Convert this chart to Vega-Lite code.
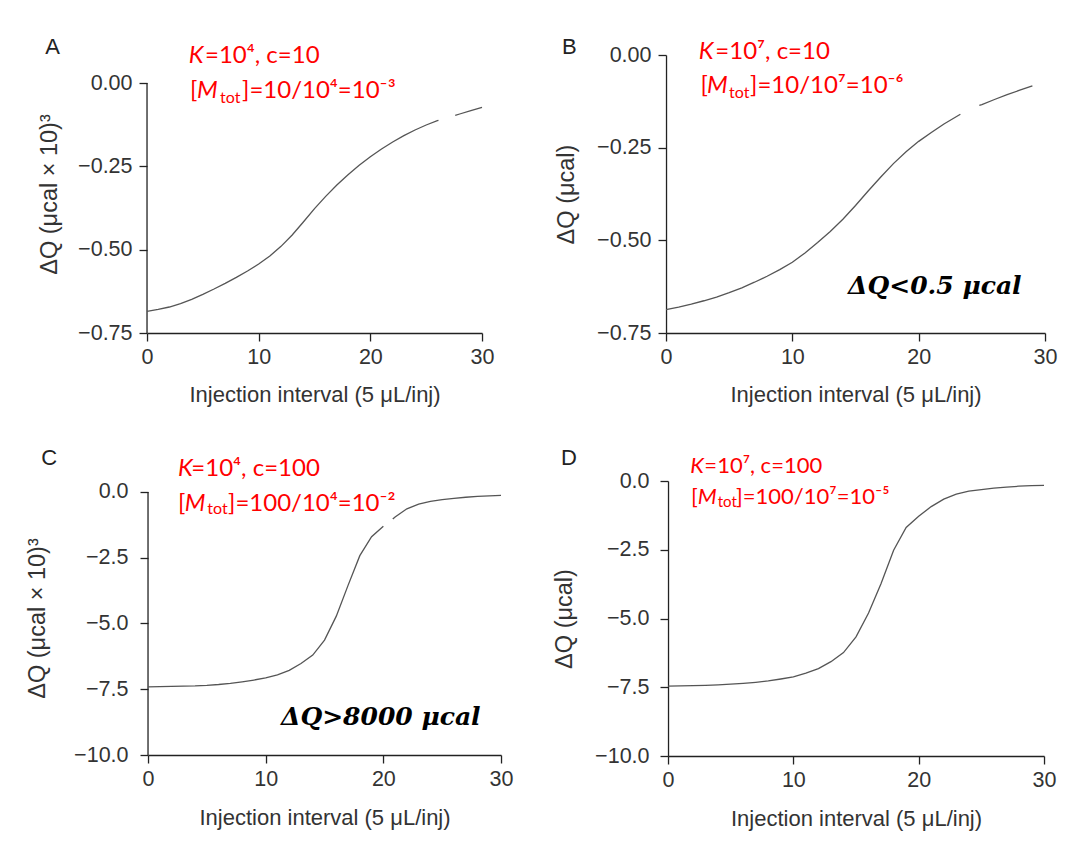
{
  "$schema": "https://vega.github.io/schema/vega-lite/v6.json",
  "background": "white",
  "padding": {"left": 25, "top": 36, "right": 5, "bottom": 5},
  "config": {
    "view": {"stroke": null},
    "axis": {
      "grid": false, "domainColor": "#222", "domainWidth": 1.3, "tickColor": "#222", "tickWidth": 1.3, "tickSize": 8,
      "labelFont": "Liberation Sans", "labelFontSize": 21.5, "labelColor": "#333", "labelFlush": false,
      "titleFont": "Liberation Sans", "titleFontWeight": "normal", "titleColor": "#333"
    },
    "axisX": {"labelPadding": 5, "titleFontSize": 22, "titlePadding": 17},
    "axisY": {"labelPadding": 7, "titleFontSize": 23.5, "titlePadding": 18}
  },
  "center": true,
  "spacing": 40,
  "vconcat": [
    {
      "spacing": 60,
      "hconcat": [
        {
          "width": 335, "height": 278,
          "encoding": {
            "x": {"field": "x", "type": "quantitative", "scale": {"domain": [0, 30], "nice": false, "zero": false}, "axis": {"values": [0, 10, 20, 30], "title": "Injection interval (5 μL/inj)"}},
            "y": {"field": "y", "type": "quantitative", "scale": {"domain": [-0.75, 0.084], "nice": false, "zero": false}, "axis": {"values": [0, -0.25, -0.5, -0.75], "format": ".2f", "title": "ΔQ (μcal × 10)³", "titlePadding": 16, "domain": false}}
          },
          "layer": [
            {"data": {"values": [{"x": 0, "y": -0.75, "y2": 0}]}, "mark": {"type": "rule", "color": "#222", "strokeWidth": 1.3}, "encoding": {"y2": {"field": "y2"}}},
            {"data": {"values": [
              {"x": 0, "y": -0.685, "seg": 1}, {"x": 1, "y": -0.679, "seg": 1}, {"x": 2, "y": -0.672, "seg": 1}, {"x": 3, "y": -0.662, "seg": 1},
              {"x": 4, "y": -0.649, "seg": 1}, {"x": 5, "y": -0.634, "seg": 1}, {"x": 6, "y": -0.618, "seg": 1}, {"x": 7, "y": -0.601, "seg": 1},
              {"x": 8, "y": -0.583, "seg": 1}, {"x": 9, "y": -0.564, "seg": 1}, {"x": 10, "y": -0.543, "seg": 1}, {"x": 11, "y": -0.519, "seg": 1},
              {"x": 12, "y": -0.49, "seg": 1}, {"x": 13, "y": -0.456, "seg": 1}, {"x": 14, "y": -0.417, "seg": 1}, {"x": 15, "y": -0.377, "seg": 1},
              {"x": 16, "y": -0.34, "seg": 1}, {"x": 17, "y": -0.306, "seg": 1}, {"x": 18, "y": -0.275, "seg": 1}, {"x": 19, "y": -0.247, "seg": 1},
              {"x": 20, "y": -0.221, "seg": 1}, {"x": 21, "y": -0.198, "seg": 1}, {"x": 22, "y": -0.177, "seg": 1}, {"x": 23, "y": -0.158, "seg": 1},
              {"x": 24, "y": -0.141, "seg": 1}, {"x": 25, "y": -0.126, "seg": 1}, {"x": 26, "y": -0.113, "seg": 1}, {"x": 26.1, "y": -0.112, "seg": 1},
              {"x": 27.6, "y": -0.097, "seg": 2}, {"x": 28, "y": -0.093, "seg": 2}, {"x": 29, "y": -0.083, "seg": 2}, {"x": 30, "y": -0.073, "seg": 2}
            ]}, "mark": {"type": "line", "color": "#555", "strokeWidth": 1.3}, "encoding": {"detail": {"field": "seg"}}},
            {"data": {"values": [{"x": -9.11, "y": 0.0861, "t": "A"}]}, "mark": {"type": "text", "font": "Liberation Sans", "fontSize": 22, "align": "left", "baseline": "alphabetic", "color": "#222"}, "encoding": {"text": {"field": "t"}}},
            {"data": {"values": [{"x": 3.73, "y": 0.0609, "t": "K"}, {"x": 4.48, "y": -0.0441, "t": "M"}]}, "mark": {"type": "text", "font": "Lato", "fontStyle": "italic", "fontSize": 24, "align": "left", "baseline": "alphabetic", "color": "#ff0000"}, "encoding": {"text": {"field": "t"}}},
            {"data": {"values": [{"x": 5.19, "y": 0.0609, "t": "=10⁴,  c=10"}, {"x": 3.85, "y": -0.0441, "t": "["}, {"x": 8.51, "y": -0.0441, "t": "]=10/10⁴=10⁻³"}]}, "mark": {"type": "text", "font": "Lato", "fontSize": 24, "align": "left", "baseline": "alphabetic", "color": "#ff0000"}, "encoding": {"text": {"field": "t"}}},
            {"data": {"values": [{"x": 6.54, "y": -0.0591, "t": "tot"}]}, "mark": {"type": "text", "font": "Lato", "fontSize": 16, "align": "left", "baseline": "alphabetic", "color": "#ff0000"}, "encoding": {"text": {"field": "t"}}}
          ]
        },
        {
          "width": 379, "height": 278,
          "encoding": {
            "x": {"field": "x", "type": "quantitative", "scale": {"domain": [0, 30], "nice": false, "zero": false}, "axis": {"values": [0, 10, 20, 30], "title": "Injection interval (5 μL/inj)"}},
            "y": {"field": "y", "type": "quantitative", "scale": {"domain": [-0.75, 0], "nice": false}, "axis": {"values": [0, -0.25, -0.5, -0.75], "format": ".2f", "title": "ΔQ (μcal)"}}
          },
          "layer": [
            {"data": {"values": [
              {"x": 0, "y": -0.687, "seg": 1}, {"x": 1, "y": -0.68, "seg": 1}, {"x": 2, "y": -0.672, "seg": 1}, {"x": 3, "y": -0.663, "seg": 1},
              {"x": 4, "y": -0.653, "seg": 1}, {"x": 5, "y": -0.641, "seg": 1}, {"x": 6, "y": -0.628, "seg": 1}, {"x": 7, "y": -0.613, "seg": 1},
              {"x": 8, "y": -0.597, "seg": 1}, {"x": 9, "y": -0.579, "seg": 1}, {"x": 10, "y": -0.559, "seg": 1}, {"x": 11, "y": -0.534, "seg": 1},
              {"x": 12, "y": -0.506, "seg": 1}, {"x": 13, "y": -0.476, "seg": 1}, {"x": 14, "y": -0.443, "seg": 1}, {"x": 15, "y": -0.406, "seg": 1},
              {"x": 16, "y": -0.367, "seg": 1}, {"x": 17, "y": -0.329, "seg": 1}, {"x": 18, "y": -0.293, "seg": 1}, {"x": 19, "y": -0.261, "seg": 1},
              {"x": 20, "y": -0.233, "seg": 1}, {"x": 21, "y": -0.209, "seg": 1}, {"x": 22, "y": -0.186, "seg": 1}, {"x": 23, "y": -0.166, "seg": 1},
              {"x": 23.3, "y": -0.16, "seg": 1},
              {"x": 24.8, "y": -0.136, "seg": 2}, {"x": 25, "y": -0.134, "seg": 2}, {"x": 26, "y": -0.12, "seg": 2}, {"x": 27, "y": -0.107, "seg": 2},
              {"x": 28, "y": -0.095, "seg": 2}, {"x": 29, "y": -0.083, "seg": 2}
            ]}, "mark": {"type": "line", "color": "#555", "strokeWidth": 1.3}, "encoding": {"detail": {"field": "seg"}}},
            {"data": {"values": [{"x": -8.23, "y": 0.0019, "t": "B"}]}, "mark": {"type": "text", "font": "Liberation Sans", "fontSize": 22, "align": "left", "baseline": "alphabetic", "color": "#222"}, "encoding": {"text": {"field": "t"}}},
            {"data": {"values": [{"x": 2.59, "y": -0.0116, "t": "K"}, {"x": 3.25, "y": -0.1017, "t": "M"}]}, "mark": {"type": "text", "font": "Lato", "fontStyle": "italic", "fontSize": 24, "align": "left", "baseline": "alphabetic", "color": "#ff0000"}, "encoding": {"text": {"field": "t"}}},
            {"data": {"values": [{"x": 3.9, "y": -0.0116, "t": "=10⁷,  c=10"}, {"x": 2.72, "y": -0.1017, "t": "["}, {"x": 6.65, "y": -0.1017, "t": "]=10/10⁷=10⁻⁶"}]}, "mark": {"type": "text", "font": "Lato", "fontSize": 24, "align": "left", "baseline": "alphabetic", "color": "#ff0000"}, "encoding": {"text": {"field": "t"}}},
            {"data": {"values": [{"x": 4.99, "y": -0.1152, "t": "tot"}]}, "mark": {"type": "text", "font": "Lato", "fontSize": 16, "align": "left", "baseline": "alphabetic", "color": "#ff0000"}, "encoding": {"text": {"field": "t"}}},
            {"data": {"values": [{"x": 14.41, "y": -0.6456, "t": "ΔQ<0.5 μcal"}]}, "mark": {"type": "text", "font": "DejaVu Serif", "fontStyle": "italic", "fontWeight": "bold", "fontSize": 25, "align": "left", "baseline": "alphabetic", "color": "#000"}, "encoding": {"text": {"field": "t"}}}
          ]
        }
      ]
    },
    {
      "spacing": 39,
      "hconcat": [
        {
          "width": 353, "height": 274,
          "encoding": {
            "x": {"field": "x", "type": "quantitative", "scale": {"domain": [0, 30], "nice": false, "zero": false}, "axis": {"values": [0, 10, 20, 30], "title": "Injection interval (5 μL/inj)", "titlePadding": 18}},
            "y": {"field": "y", "type": "quantitative", "scale": {"domain": [-10, 0.418], "nice": false, "zero": false}, "axis": {"values": [0, -2.5, -5, -7.5, -10], "format": ".1f", "title": "ΔQ (μcal × 10)³", "labelPadding": 12, "titlePadding": 24, "domain": false}}
          },
          "layer": [
            {"data": {"values": [{"x": 0, "y": -10, "y2": 0}]}, "mark": {"type": "rule", "color": "#222", "strokeWidth": 1.3}, "encoding": {"y2": {"field": "y2"}}},
            {"data": {"values": [
              {"x": 0, "y": -7.41, "seg": 1}, {"x": 1, "y": -7.4, "seg": 1}, {"x": 2, "y": -7.39, "seg": 1}, {"x": 3, "y": -7.38, "seg": 1},
              {"x": 4, "y": -7.37, "seg": 1}, {"x": 5, "y": -7.35, "seg": 1}, {"x": 6, "y": -7.32, "seg": 1}, {"x": 7, "y": -7.28, "seg": 1},
              {"x": 8, "y": -7.22, "seg": 1}, {"x": 9, "y": -7.15, "seg": 1}, {"x": 10, "y": -7.07, "seg": 1}, {"x": 11, "y": -6.95, "seg": 1},
              {"x": 12, "y": -6.78, "seg": 1}, {"x": 13, "y": -6.52, "seg": 1}, {"x": 14, "y": -6.2, "seg": 1}, {"x": 15, "y": -5.63, "seg": 1},
              {"x": 16, "y": -4.72, "seg": 1}, {"x": 17, "y": -3.55, "seg": 1}, {"x": 18, "y": -2.42, "seg": 1}, {"x": 19, "y": -1.7, "seg": 1},
              {"x": 20, "y": -1.3, "seg": 1},
              {"x": 20.8, "y": -1.03, "seg": 2}, {"x": 21, "y": -0.95, "seg": 2}, {"x": 22, "y": -0.64, "seg": 2}, {"x": 23, "y": -0.46, "seg": 2},
              {"x": 24, "y": -0.36, "seg": 2}, {"x": 25, "y": -0.29, "seg": 2}, {"x": 26, "y": -0.24, "seg": 2}, {"x": 27, "y": -0.2, "seg": 2},
              {"x": 28, "y": -0.17, "seg": 2}, {"x": 29, "y": -0.15, "seg": 2}, {"x": 30, "y": -0.13, "seg": 2}
            ]}, "mark": {"type": "line", "color": "#555", "strokeWidth": 1.3}, "encoding": {"detail": {"field": "seg"}}},
            {"data": {"values": [{"x": -9.07, "y": 1.027, "t": "C"}]}, "mark": {"type": "text", "font": "Liberation Sans", "fontSize": 22, "align": "left", "baseline": "alphabetic", "color": "#222"}, "encoding": {"text": {"field": "t"}}},
            {"data": {"values": [{"x": 2.55, "y": 0.608, "t": "K"}, {"x": 3.12, "y": -0.711, "t": "M"}]}, "mark": {"type": "text", "font": "Lato", "fontStyle": "italic", "fontSize": 24, "align": "left", "baseline": "alphabetic", "color": "#ff0000"}, "encoding": {"text": {"field": "t"}}},
            {"data": {"values": [{"x": 3.68, "y": 0.608, "t": "=10⁴,  c=100"}, {"x": 2.55, "y": -0.711, "t": "["}, {"x": 6.8, "y": -0.711, "t": "]=100/10⁴=10⁻²"}]}, "mark": {"type": "text", "font": "Lato", "fontSize": 24, "align": "left", "baseline": "alphabetic", "color": "#ff0000"}, "encoding": {"text": {"field": "t"}}},
            {"data": {"values": [{"x": 5.04, "y": -0.837, "t": "tot"}]}, "mark": {"type": "text", "font": "Lato", "fontSize": 16, "align": "left", "baseline": "alphabetic", "color": "#ff0000"}, "encoding": {"text": {"field": "t"}}},
            {"data": {"values": [{"x": 11.3, "y": -8.86, "t": "ΔQ>8000 μcal"}]}, "mark": {"type": "text", "font": "DejaVu Serif", "fontStyle": "italic", "fontWeight": "bold", "fontSize": 25, "align": "left", "baseline": "alphabetic", "color": "#000"}, "encoding": {"text": {"field": "t"}}}
          ]
        },
        {
          "width": 376, "height": 275,
          "encoding": {
            "x": {"field": "x", "type": "quantitative", "scale": {"domain": [0, 30], "nice": false, "zero": false}, "axis": {"values": [0, 10, 20, 30], "title": "Injection interval (5 μL/inj)", "titlePadding": 18}},
            "y": {"field": "y", "type": "quantitative", "scale": {"domain": [-10, 0], "nice": false}, "axis": {"values": [0, -2.5, -5, -7.5, -10], "format": ".1f", "title": "ΔQ (μcal)", "labelPadding": 11}}
          },
          "layer": [
            {"data": {"values": [
              {"x": 0, "y": -7.46}, {"x": 1, "y": -7.45}, {"x": 2, "y": -7.44}, {"x": 3, "y": -7.43}, {"x": 4, "y": -7.41},
              {"x": 5, "y": -7.39}, {"x": 6, "y": -7.36}, {"x": 7, "y": -7.32}, {"x": 8, "y": -7.27}, {"x": 9, "y": -7.2},
              {"x": 10, "y": -7.12}, {"x": 11, "y": -6.99}, {"x": 12, "y": -6.82}, {"x": 13, "y": -6.57}, {"x": 14, "y": -6.24},
              {"x": 15, "y": -5.67}, {"x": 16, "y": -4.8}, {"x": 17, "y": -3.73}, {"x": 18, "y": -2.52}, {"x": 19, "y": -1.69},
              {"x": 20, "y": -1.28}, {"x": 21, "y": -0.93}, {"x": 22, "y": -0.66}, {"x": 23, "y": -0.48}, {"x": 24, "y": -0.37},
              {"x": 25, "y": -0.31}, {"x": 26, "y": -0.26}, {"x": 27, "y": -0.22}, {"x": 28, "y": -0.19}, {"x": 29, "y": -0.17},
              {"x": 30, "y": -0.16}
            ]}, "mark": {"type": "line", "color": "#555", "strokeWidth": 1.3}, "encoding": {}},
            {"data": {"values": [{"x": -8.54, "y": 0.582, "t": "D"}]}, "mark": {"type": "text", "font": "Liberation Sans", "fontSize": 22, "align": "left", "baseline": "alphabetic", "color": "#222"}, "encoding": {"text": {"field": "t"}}},
            {"data": {"values": [{"x": 1.78, "y": 0.302, "t": "K"}, {"x": 2.37, "y": -0.836, "t": "M"}]}, "mark": {"type": "text", "font": "Lato", "fontStyle": "italic", "fontSize": 22, "align": "left", "baseline": "alphabetic", "color": "#ff0000"}, "encoding": {"text": {"field": "t"}}},
            {"data": {"values": [{"x": 2.9, "y": 0.302, "t": "=10⁷,  c=100"}, {"x": 1.835, "y": -0.836, "t": "["}, {"x": 5.43, "y": -0.836, "t": "]=100/10⁷=10⁻⁵"}]}, "mark": {"type": "text", "font": "Lato", "fontSize": 22, "align": "left", "baseline": "alphabetic", "color": "#ff0000"}, "encoding": {"text": {"field": "t"}}},
            {"data": {"values": [{"x": 3.97, "y": -0.956, "t": "tot"}]}, "mark": {"type": "text", "font": "Lato", "fontSize": 15, "align": "left", "baseline": "alphabetic", "color": "#ff0000"}, "encoding": {"text": {"field": "t"}}}
          ]
        }
      ]
    }
  ]
}
